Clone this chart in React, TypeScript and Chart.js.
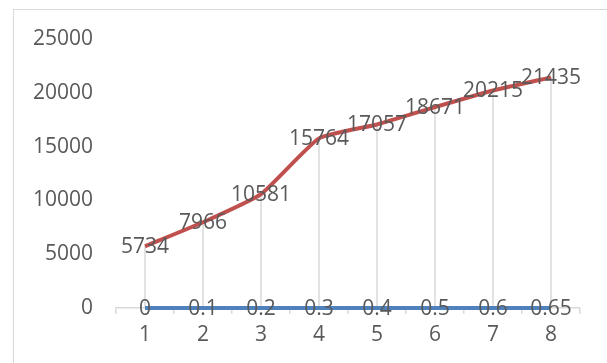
import React, { useEffect, useRef } from "react";
import { Chart, registerables } from "chart.js";

Chart.register(...registerables);

const categories = ["1", "2", "3", "4", "5", "6", "7", "8"];
const seriesA = [0, 0.1, 0.2, 0.3, 0.4, 0.5, 0.6, 0.65];
const seriesB = [5734, 7966, 10581, 15764, 17057, 18671, 20215, 21435];
const yMin = 0;
const yMax = 25000;
const yStep = 5000;

const FONT = "'Open Sans', sans-serif";
const TEXT = "#595959";

const dropLines = {
  id: "dropLines",
  beforeDatasetsDraw(chart: any) {
    const ctx = chart.ctx;
    const meta = chart.getDatasetMeta(1);
    const base = chart.scales.y.getPixelForValue(0);
    ctx.save();
    ctx.strokeStyle = "#d9d9d9";
    ctx.lineWidth = 1.5;
    meta.data.forEach((p: any) => {
      ctx.beginPath();
      ctx.moveTo(p.x, base);
      ctx.lineTo(p.x, p.y);
      ctx.stroke();
    });
    ctx.restore();
  },
};

const labelsPlugin = {
  id: "pointLabels",
  afterDatasetsDraw(chart: any) {
    const ctx = chart.ctx;
    ctx.save();
    ctx.font = `21px ${FONT}`;
    ctx.fillStyle = TEXT;
    ctx.textAlign = "center";
    ctx.textBaseline = "middle";
    chart.data.datasets.forEach((ds: any, i: number) => {
      const meta = chart.getDatasetMeta(i);
      meta.data.forEach((p: any, j: number) => {
        ctx.fillText(String(ds.data[j]), p.x, p.y + 1);
      });
    });
    ctx.restore();
  },
};

export default function App() {
  const ref = useRef<HTMLCanvasElement | null>(null);
  useEffect(() => {
    if (!ref.current) return;
    const chart = new Chart(ref.current, {
      type: "line",
      data: {
        labels: categories,
        datasets: [
          {
            data: seriesA,
            borderColor: "#4F81BD",
            borderWidth: 4,
            pointRadius: 0,
            tension: 0,
            clip: false,
          },
          {
            data: seriesB,
            borderColor: "#C0504D",
            borderWidth: 4,
            pointRadius: 0,
            tension: 0.15,
            clip: false,
          },
        ],
      },
      options: {
        animation: false,
        responsive: false,
        maintainAspectRatio: false,
        layout: { padding: { left: 0, right: 27, top: 39, bottom: 0 } },
        plugins: { legend: { display: false }, tooltip: { enabled: false } },
        scales: {
          x: {
            offset: true,
            grid: {
              offset: true,
              drawOnChartArea: false,
              drawTicks: true,
              tickLength: 6,
              color: "#d9d9d9",
              lineWidth: 1.5,
            },
            border: { display: true, color: "#d9d9d9", width: 1.5 },
            ticks: { color: TEXT, font: { family: FONT, size: 21 }, padding: 8 },
            afterFit: (s: any) => {
              s.height = 55;
            },
          },
          y: {
            min: yMin,
            max: yMax,
            grid: { display: false, drawTicks: false },
            border: { display: false },
            ticks: {
              stepSize: yStep,
              color: TEXT,
              font: { family: FONT, size: 21 },
              padding: 23,
              callback: (v: any) => String(v),
            },
            afterFit: (s: any) => {
              s.width = 116;
            },
          },
        },
      },
      plugins: [dropLines, labelsPlugin],
    });
    return () => chart.destroy();
  }, []);
  return (
    <div style={{ position: "fixed", left: 0, top: 0, width: 607, height: 363, background: "#fff", overflow: "hidden" }}>
      <div
        style={{
          position: "absolute",
          left: 13,
          top: 9,
          width: 700,
          height: 500,
          borderLeft: "1px solid #d9d9d9",
          borderTop: "1px solid #d9d9d9",
        }}
      />
      <canvas ref={ref} width={607} height={363} style={{ position: "absolute", left: 0, top: 0, width: 607, height: 363 }} />
    </div>
  );
}
